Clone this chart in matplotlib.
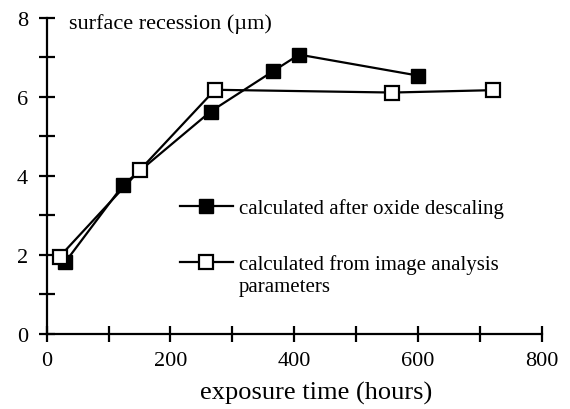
import matplotlib
matplotlib.use("Agg")
import matplotlib.pyplot as plt
from matplotlib.ticker import MultipleLocator

plt.rcParams['font.family'] = ['Liberation Serif', 'DejaVu Serif']

# exposure time (hours) and surface recession (um)
descaled_x = [30, 124, 265, 366, 408, 600]
descaled_y = [1.82, 3.78, 5.63, 6.65, 7.07, 6.54]
image_x = [21, 150, 272, 559, 721]
image_y = [1.96, 4.14, 6.18, 6.11, 6.17]

xticks = [0, 200, 400, 600, 800]
yticks = [0, 2, 4, 6, 8]

fig = plt.figure(figsize=(5.7, 4.1), dpi=100)
ax = fig.add_axes([0.082, 0.183, 0.868, 0.771])

ax.plot(descaled_x, descaled_y, color='black', lw=1.6, marker='s', ms=9.5,
        mfc='black', mec='black', label='calculated after oxide descaling')
ax.plot(image_x, image_y, color='black', lw=1.6, marker='s', ms=9.5,
        mfc='white', mec='black', mew=1.6, label='calculated from image analysis')

ax.set_xlim(0, 800)
ax.set_ylim(0, 8)
ax.set_xticks(xticks)
ax.set_yticks(yticks)
ax.xaxis.set_minor_locator(MultipleLocator(100))
ax.yaxis.set_minor_locator(MultipleLocator(1))
ax.tick_params(which='both', direction='inout', length=11, width=1.6, labelsize=16)
ax.tick_params(axis='x', pad=7)
ax.tick_params(axis='y', pad=8)
for s in ['top', 'right']:
    ax.spines[s].set_visible(False)
for s in ['left', 'bottom']:
    ax.spines[s].set_linewidth(1.6)

ax.text(0.044, 0.985, 'surface recession (\u00b5m)', transform=ax.transAxes,
        fontsize=16, va='center', ha='left')
ax.set_xlabel('exposure time (hours)', fontsize=19, va='center')
ax.xaxis.set_label_coords(0.544, -0.185)

ax.legend(loc='upper left', bbox_to_anchor=(0.269, 0.43), frameon=False,
          fontsize=15, handlelength=2.55, handletextpad=0.3, labelspacing=1.75,
          borderpad=0, borderaxespad=0)
ax.text(0.388, 0.15, 'parameters', transform=ax.transAxes, fontsize=15,
        va='center', ha='left')

fig.savefig('out.png', dpi=100)
